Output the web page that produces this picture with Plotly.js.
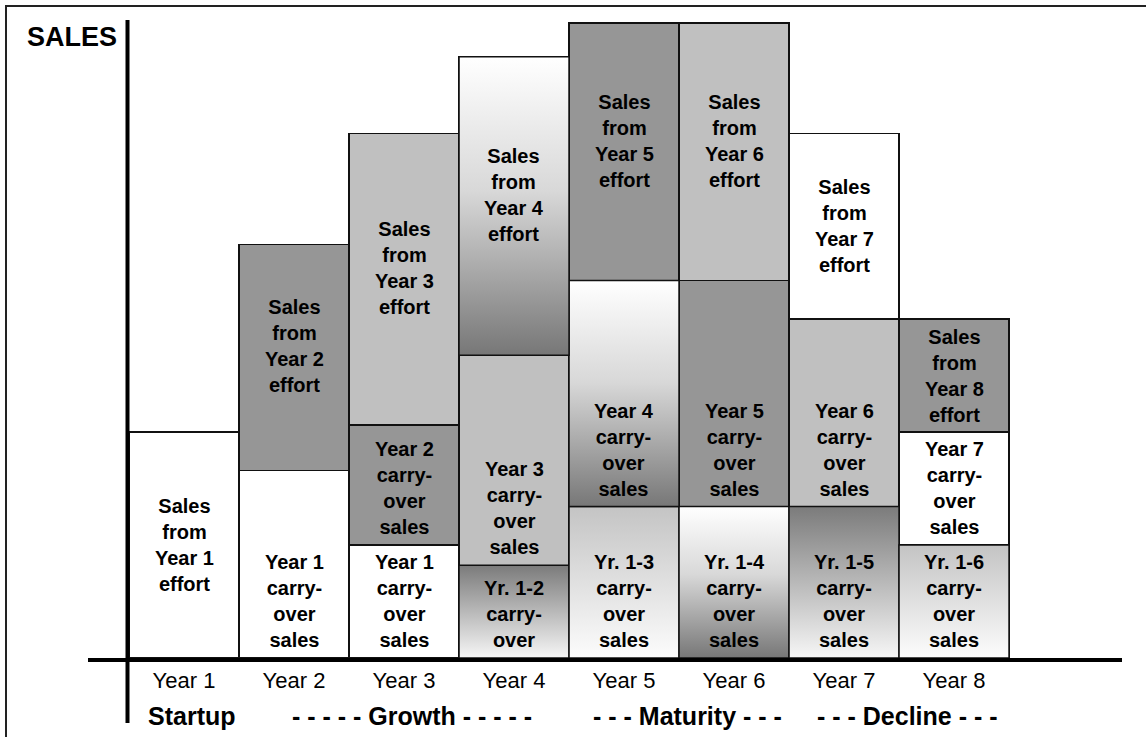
<!DOCTYPE html>
<html>
<head>
<meta charset="utf-8">
<script src="https://cdn.plot.ly/plotly-3.0.1.min.js"></script>
<style>
  html, body { margin: 0; padding: 0; background: #ffffff; }
  #chart { width: 1146px; height: 737px; }
</style>
</head>
<body>
<div id="chart"></div>
<script>
// ---- data -------------------------------------------------------------
const years = ['Year 1', 'Year 2', 'Year 3', 'Year 4', 'Year 5', 'Year 6', 'Year 7', 'Year 8'];

// Each year's sales stacked in up to three slices:
// oldest carry-over at the bottom, newer carry-over in the middle,
// the year's own selling effort on top.
const bottomSales = [100, 83, 50, 41, 67, 67, 67, 50];
const middleSales = [null, 100, 53, 93, 100, 100, 83, 50];
const topSales    = [null, null, 129, 132, 114, 114, 82, 50];

const bottomLabels = [
  'Sales<br>from<br>Year 1<br>effort',
  'Year 1<br>carry-<br>over<br>sales',
  'Year 1<br>carry-<br>over<br>sales',
  'Yr. 1-2<br>carry-<br>over',
  'Yr. 1-3<br>carry-<br>over<br>sales',
  'Yr. 1-4<br>carry-<br>over<br>sales',
  'Yr. 1-5<br>carry-<br>over<br>sales',
  'Yr. 1-6<br>carry-<br>over<br>sales'
];
const middleLabels = [
  '',
  'Sales<br>from<br>Year 2<br>effort',
  'Year 2<br>carry-<br>over<br>sales',
  'Year 3<br>carry-<br>over<br>sales',
  'Year 4<br>carry-<br>over<br>sales',
  'Year 5<br>carry-<br>over<br>sales',
  'Year 6<br>carry-<br>over<br>sales',
  'Year 7<br>carry-<br>over<br>sales'
];
const topLabels = [
  '',
  '',
  'Sales<br>from<br>Year 3<br>effort',
  'Sales<br>from<br>Year 4<br>effort',
  'Sales<br>from<br>Year 5<br>effort',
  'Sales<br>from<br>Year 6<br>effort',
  'Sales<br>from<br>Year 7<br>effort',
  'Sales<br>from<br>Year 8<br>effort'
];

// Life-cycle phases and the years each one covers
const phaseLabels = ['Startup', '- - - - - Growth - - - - -', '- - - Maturity - - -', '- - - Decline - - -'];
const phaseFirstYear = [0, 1, 4, 6];
const phaseLastYear  = [0, 3, 5, 7];

// ---- styling ----------------------------------------------------------
const SOLID = { white: '#ffffff', light: '#c0c0c0', dark: '#969696' };
// colorscale runs from the bottom (0) of a slice to its top (1)
const GRADIENT = {
  fadeDown: [[0, '#777777'], [0.55, '#d8d8d8'], [1, '#ffffff']],  // white top, grey bottom
  fadeUp:   [[0, '#f6f6f6'], [1, '#7b7b7b']],                     // grey top, white bottom
  softUp:   [[0, '#fcfcfc'], [1, '#c4c4c4']]                      // pale grey top, white bottom
};
const bottomFill = ['white', 'white', 'white', 'fadeUp', 'softUp', 'fadeDown', 'fadeUp', 'softUp'];
const middleFill = [null, 'dark', 'dark', 'light', 'fadeDown', 'dark', 'light', 'white'];
const topFill    = [null, null, 'light', 'fadeDown', 'dark', 'light', 'white', 'dark'];

// where each slice's caption sits: centred, centred a little high, or at the foot
const bottomAlign = ['mid', 'foot', 'foot', 'foot', 'foot', 'foot', 'foot', 'foot'];
const middleAlign = [null, 'raise', 'foot', 'foot', 'foot', 'foot', 'foot', 'foot'];
const topAlign    = [null, null, 'raise', 'raise', 'raise', 'raise', 'mid', 'mid'];

const FAMILY = 'Liberation Sans, Arial, Helvetica, sans-serif';
const OUTLINE = { color: '#111111', width: 1.5 };
const LABEL_FONT = { family: FAMILY, size: 20, color: '#000000', weight: 700 };

// ---- page geometry ----------------------------------------------------
const W = 1146, H = 737;
const M = { l: 88, r: 24, t: 20, b: 79, pad: 0 };
const plotW = W - M.l - M.r, plotH = H - M.t - M.b;
const paperX = p => (p - M.l) / plotW;
const paperY = p => (H - M.b - p) / plotH;

// ---- build traces and captions ---------------------------------------
const idx = years.map((_, i) => i);
const layers = [
  { values: bottomSales, labels: bottomLabels, fill: bottomFill, align: bottomAlign },
  { values: middleSales, labels: middleLabels, fill: middleFill, align: middleAlign },
  { values: topSales,    labels: topLabels,    fill: topFill,    align: topAlign }
];

const barTraces = [];
const gradientTraces = [];
const annotations = [];
const stackTop = years.map(() => 0);

layers.forEach(layer => {
  barTraces.push({
    type: 'bar',
    x: idx,
    y: layer.values,
    width: 1,
    marker: { color: layer.fill.map(f => SOLID[f] || '#ffffff'), line: OUTLINE },
    hoverinfo: 'skip',
    showlegend: false
  });

  layer.values.forEach((v, i) => {
    if (v == null) return;
    const b = stackTop[i];
    const t = b + v;
    const grad = GRADIENT[layer.fill[i]];
    if (grad) {
      gradientTraces.push({
        type: 'scatter',
        mode: 'lines',
        x: [i - 0.5, i + 0.5, i + 0.5, i - 0.5, i - 0.5],
        y: [b, b, t, t, b],
        fill: 'toself',
        fillgradient: { type: 'vertical', colorscale: grad, start: b, stop: t },
        line: OUTLINE,
        hoverinfo: 'skip',
        showlegend: false
      });
    }
    const a = layer.align[i];
    annotations.push({
      xref: 'x', yref: 'y',
      x: i,
      y: a === 'foot' ? b : b + v / 2,
      yanchor: a === 'foot' ? 'bottom' : 'middle',
      yshift: a === 'foot' ? 5 : (a === 'raise' ? 11 : 0),
      text: layer.labels[i],
      showarrow: false,
      align: 'center',
      font: LABEL_FONT
    });
    stackTop[i] = t;
  });
});

// phase captions under the year ticks
phaseLabels.forEach((label, k) => {
  annotations.push({
    xref: 'x', yref: 'paper',
    x: (phaseFirstYear[k] + phaseLastYear[k]) / 2,
    xshift: 8,
    y: paperY(716),
    yanchor: 'middle',
    text: label,
    showarrow: false,
    font: { family: FAMILY, size: 25, color: '#000000', weight: 700 }
  });
});

// vertical axis caption
annotations.push({
  xref: 'paper', yref: 'paper',
  x: paperX(72), y: paperY(37),
  xanchor: 'center', yanchor: 'middle',
  text: 'SALES',
  showarrow: false,
  font: { family: FAMILY, size: 27, color: '#000000', weight: 700 }
});

const layout = {
  width: W,
  height: H,
  margin: M,
  paper_bgcolor: '#ffffff',
  plot_bgcolor: '#ffffff',
  barmode: 'stack',
  bargap: 0,
  showlegend: false,
  xaxis: {
    range: [-0.873, 8.527],
    tickmode: 'array',
    tickvals: idx,
    ticktext: years,
    ticks: '',
    showline: true,
    linecolor: '#000000',
    linewidth: 4,
    showgrid: false,
    zeroline: false,
    tickfont: { family: FAMILY, size: 22, color: '#000000' }
  },
  yaxis: {
    range: [0, 282.3],
    visible: false,
    showgrid: false,
    zeroline: false
  },
  shapes: [
    // vertical sales axis, running past the baseline
    { type: 'line', xref: 'paper', yref: 'paper',
      x0: paperX(127.5), x1: paperX(127.5), y0: paperY(20), y1: paperY(723),
      line: { color: '#000000', width: 4 } },
    // outer frame
    { type: 'rect', xref: 'paper', yref: 'paper',
      x0: paperX(6), x1: paperX(W + 20), y0: paperY(H + 20), y1: paperY(6),
      line: { color: '#222222', width: 2 }, fillcolor: 'rgba(0,0,0,0)' }
  ],
  annotations: annotations
};

Plotly.newPlot('chart', barTraces.concat(gradientTraces), layout, { displayModeBar: false, staticPlot: true });
</script>
</body>
</html>
